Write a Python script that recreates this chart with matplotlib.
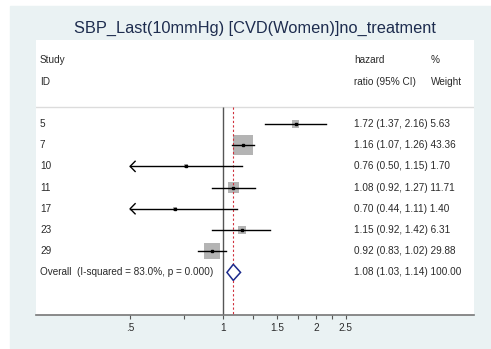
import numpy as np
import matplotlib
matplotlib.use("Agg")
import matplotlib.pyplot as plt

plt.rcParams['font.family'] = ['Liberation Sans', 'DejaVu Sans']

studies = ['5', '7', '10', '11', '17', '23', '29']
hr = [1.72, 1.16, 0.76, 1.08, 0.70, 1.15, 0.92]
lo = [1.37, 1.07, 0.50, 0.92, 0.44, 0.92, 0.83]
hi = [2.16, 1.26, 1.15, 1.27, 1.11, 1.42, 1.02]
wt = [5.63, 43.36, 1.70, 11.71, 1.40, 6.31, 29.88]
ov_hr, ov_lo, ov_hi = 1.08, 1.03, 1.14
ov_label = 'Overall  (I-squared = 83.0%, p = 0.000)'
title = 'SBP_Last(10mmHg) [CVD(Women)]no_treatment'
tick_vals = [0.5, 0.75, 1, 1.25, 1.5, 1.75, 2, 2.25, 2.5]
tick_labels = ['.5', '', '1', '', '1.5', '', '2', '', '2.5']
xmin_clip = 0.5

W, H = 491, 349
bg = '#EAF2F3'
txt = '#2a2a2a'
fs = 7.2

fig = plt.figure(figsize=(W / 100, H / 100), dpi=100)
fig.patch.set_facecolor('white')
# outer graph region
fig.patches.append(plt.Rectangle((10 / W, 1 - 348 / H), (W - 10) / W, (348 - 6) / H,
                                 transform=fig.transFigure, color=bg, zorder=-10))

ax = fig.add_axes([36 / W, 1 - 315 / H, 438 / W, 275 / H])
ax.set_zorder(1)
ax.set_facecolor('white')
ax.set_xscale('log')
ax.set_xlim(0.2477, 6.51)
ax.set_ylim(9.01, -3.96)
for s in ['top', 'left', 'right']:
    ax.spines[s].set_visible(False)
ax.spines['bottom'].set_color('#777777')
ax.spines['bottom'].set_linewidth(1.2)
ax.set_yticks([])
ax.minorticks_off()
ax.set_xticks(tick_vals)
ax.set_xticklabels(tick_labels)
ax.tick_params(axis='x', length=3, width=0.8, color='#555555', labelsize=fs,
               labelcolor=txt, pad=3)

# header
tr = ax.get_yaxis_transform()
ax.text(0.009, -3, 'Study', fontsize=fs, color=txt, va='center', transform=tr)
ax.text(0.009, -2, 'ID', fontsize=fs, color=txt, va='center', transform=tr)
ax.text(0.726, -3, 'hazard', fontsize=fs, color=txt, va='center', transform=tr)
ax.text(0.726, -2, 'ratio (95% CI)', fontsize=fs, color=txt, va='center', transform=tr)
ax.text(0.902, -3, '%', fontsize=fs, color=txt, va='center', transform=tr)
ax.text(0.902, -2, 'Weight', fontsize=fs, color=txt, va='center', transform=tr)
ax.axhline(-0.8, color='#DCDCDC', lw=1.0)

# reference lines
ax.vlines(1, -0.8, 9.01, color='#555555', lw=1.0, zorder=2)
ax.vlines(ov_hr, -0.8, 9.01, color='#D0303C', lw=0.8, linestyles=(0, (2, 2)), zorder=4)

ys = np.arange(len(studies))
side = 3.04 * np.sqrt(np.array(wt)) * 0.72  # points
ax.scatter(hr, ys, s=side ** 2, marker='s', color='#B4B4B4', edgecolors='none', zorder=3)

for i in range(len(studies)):
    left = max(lo[i], xmin_clip)
    ax.plot([left, hi[i]], [ys[i], ys[i]], color='black', lw=1.0, zorder=5)
    if lo[i] <= xmin_clip:
        tipx = xmin_clip * np.exp(5 / 134)
        ax.plot([tipx, xmin_clip, tipx], [ys[i] - 0.24, ys[i], ys[i] + 0.24],
                color='black', lw=1.0, zorder=5)
    ax.plot(hr[i], ys[i], 's', color='black', ms=1.7, zorder=6)
    ax.text(0.009, ys[i], studies[i], fontsize=fs, color=txt, va='center', transform=tr)
    ax.text(0.726, ys[i], '%.2f (%.2f, %.2f) %.2f' % (hr[i], lo[i], hi[i], wt[i]),
            fontsize=fs, color=txt, va='center', transform=tr)

# overall
yo = len(studies)
ax.fill([ov_lo, ov_hr, ov_hi, ov_hr, ov_lo], [yo, yo - 0.38, yo, yo + 0.38, yo],
        facecolor='white', edgecolor='#1C2A8C', lw=1.1, zorder=5)
ax.text(0.009, yo, ov_label, fontsize=fs, color=txt, va='center', transform=tr)
ax.text(0.726, yo, '%.2f (%.2f, %.2f) 100.00' % (ov_hr, ov_lo, ov_hi),
        fontsize=fs, color=txt, va='center', transform=tr)

fig.text(255 / W, 1 - 28 / H, title, fontsize=11.8, color='#1E2D4F', ha='center', va='center')

fig.savefig('out.png', dpi=100, facecolor=fig.get_facecolor())
